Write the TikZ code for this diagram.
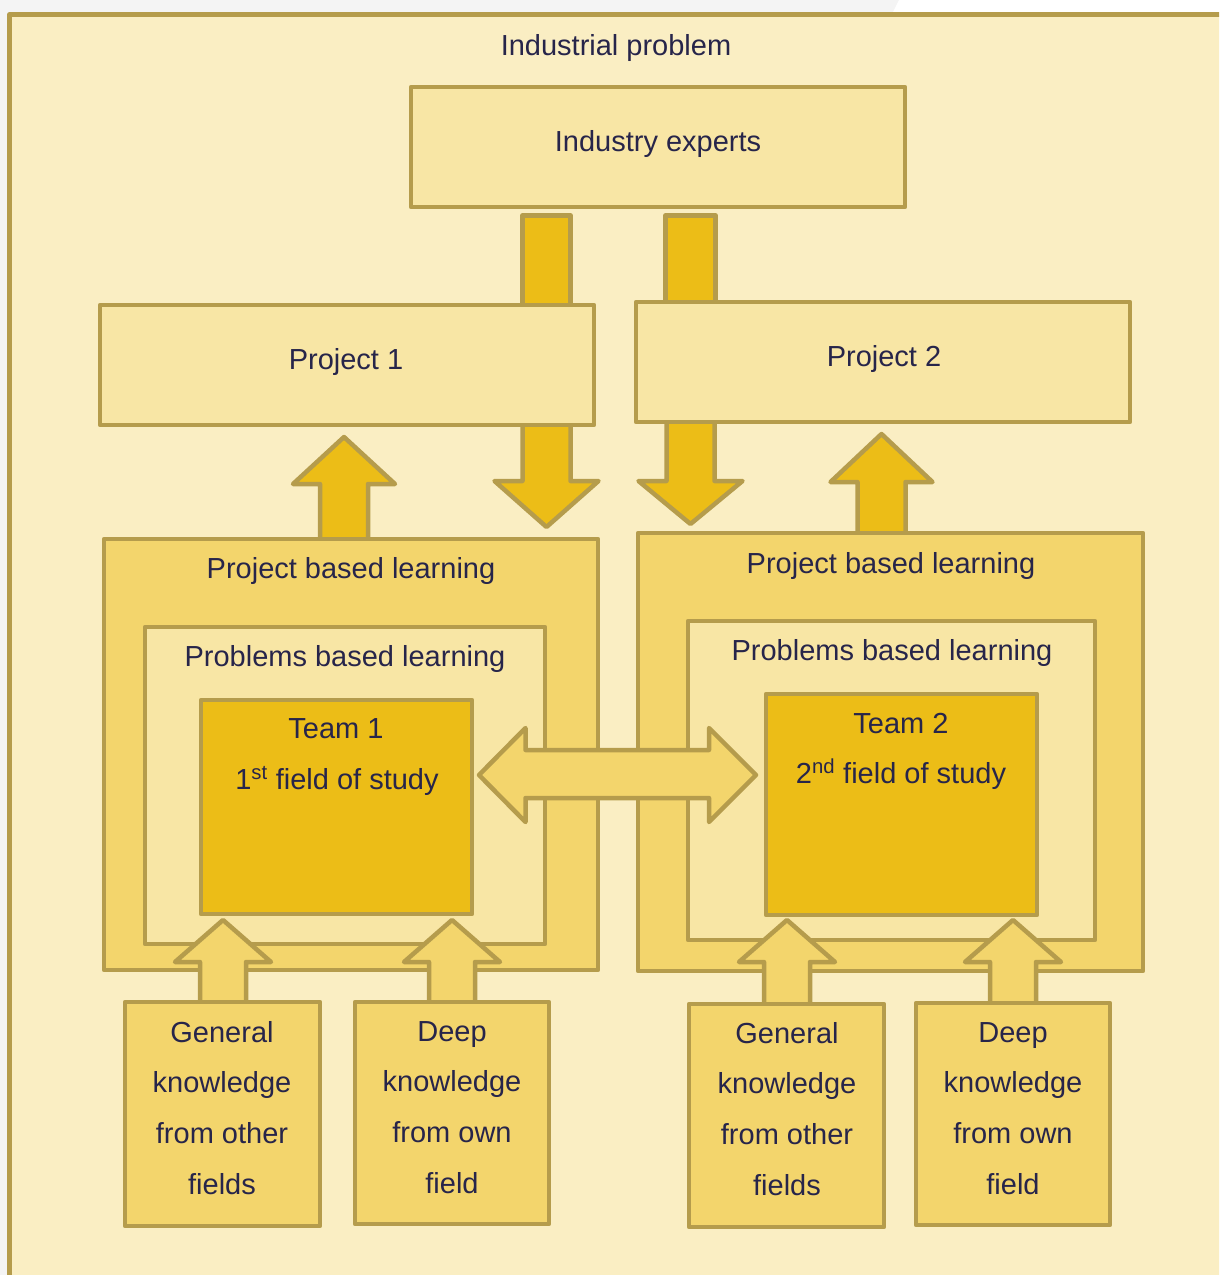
\documentclass[tikz,border=0pt]{standalone}
\usepackage{fontspec}
\setmainfont{Liberation Sans}
\definecolor{pagegray}{HTML}{F4F4F4}
\definecolor{framefill}{HTML}{FAEEC3}
\definecolor{edge}{HTML}{B59C4C}
\definecolor{pale}{HTML}{F8E6A5}
\definecolor{mid}{HTML}{F3D56C}
\definecolor{gold}{HTML}{ECBD17}
\definecolor{ink}{HTML}{27254A}

% panel{name}{x1}{y1}{x2}{y2}{style}: rectangle given by its border line
\newcommand\panel[6]{%
  \node[#6, minimum width={#4-#2}, minimum height={#5-#3}] (#1)
    at ({(#2+#4)/2},{(#3+#5)/2}) {};}
% blockarrow{style}{x centre}{y base}{y head base}{y tip}{half shaft}{half head}
\newcommand\blockarrow[7]{%
  \draw[#1] ({#2-#6},#3) -- ({#2-#6},#4) -- ({#2-#7},#4) -- (#2,#5)
    -- ({#2+#7},#4) -- ({#2+#6},#4) -- ({#2+#6},#3) -- cycle;}

\begin{document}
\begin{tikzpicture}[x=1pt,y=-1pt,
  every node/.style={font=\fontsize{29}{35}\selectfont, text=ink},
  outline/.style={draw=edge, line width=4.5pt, line join=round},
  boxbase/.style={outline, rectangle, inner sep=0pt, outer sep=0pt},
  palebox/.style={boxbase, fill=pale},
  midbox/.style={boxbase, fill=mid},
  goldbox/.style={boxbase, fill=gold},
  goldarrow/.style={outline, fill=gold},
  midarrow/.style={outline, fill=mid},
  label/.style={anchor=base, inner sep=0pt}]

\useasboundingbox (0,0) rectangle (1219,1275);
\clip (0,0) rectangle (1219,1275);

% page backdrop
\fill[pagegray] (0,0) rectangle (1219,1275);
\fill[white] (899,0) -- (1219,0) -- (1219,12) -- (893,12) -- cycle;

% outer frame
\draw[outline, fill=framefill] (9.5,14.5) rectangle (1240,1300);
\node[label] (problem) at (616,55) {Industrial problem};

% feeds from the experts to the projects
\panel{feedA}{522.5}{215.5}{570.5}{306}{goldbox}
\panel{feedB}{665.5}{215.5}{715.5}{303}{goldbox}

% arrows between projects and learning blocks
\blockarrow{goldarrow}{546.5}{424}{481}{527}{24}{52}
\blockarrow{goldarrow}{344}{541}{484}{437}{24}{51}
\blockarrow{goldarrow}{690.5}{421}{481}{524}{24}{52}
\blockarrow{goldarrow}{881.5}{535}{482}{434}{24}{51}

% experts and projects
\panel{experts}{411}{87}{905}{207}{palebox}
\panel{proj1}{100}{305}{594}{425}{palebox}
\panel{proj2}{636}{302}{1130}{422}{palebox}

% learning blocks
\panel{pbl1}{104}{539}{598}{970}{midbox}
\panel{pbl2}{638}{533}{1143}{971}{midbox}
\panel{prob1}{145}{627}{545}{944}{palebox}
\panel{prob2}{688}{621}{1095}{940}{palebox}
\panel{team1}{201}{700}{472}{914}{goldbox}
\panel{team2}{766}{694}{1037}{915}{goldbox}

% exchange between the teams
\draw[midarrow] (479,775) -- (525.5,728) -- (525.5,750) -- (709,750)
  -- (709,728) -- (756,775) -- (709,822) -- (709,798) -- (525.5,798)
  -- (525.5,822) -- cycle;

% knowledge feeding the teams
\blockarrow{midarrow}{223}{1004}{962}{920}{23}{48}
\blockarrow{midarrow}{452}{1004}{962}{920}{23}{48}
\blockarrow{midarrow}{787}{1006}{962}{920}{23}{48}
\blockarrow{midarrow}{1013}{1005}{962}{920}{23}{48}

\panel{know1}{125}{1002}{320}{1226}{midbox}
\panel{know2}{355}{1002}{549}{1224}{midbox}
\panel{know3}{689}{1004}{884}{1227}{midbox}
\panel{know4}{916}{1003}{1110}{1225}{midbox}

% texts
\node[label] (expertsT) at (658,151) {Industry experts};
\node[label] (proj1T) at (346,369) {Project 1};
\node[label] (proj2T) at (884,366) {Project 2};
\node[label] (pbl1T) at (351,578) {Project based learning};
\node[label] (pbl2T) at (891,573) {Project based learning};
\node[label] (prob1T) at (345,666) {Problems based learning};
\node[label] (prob2T) at (892,660) {Problems based learning};
\node[label] (team1T) at (336,738) {Team 1};
\node[label] (team1F) at (337,789) {1\textsuperscript{st} field of study};
\node[label] (team2T) at (901,733) {Team 2};
\node[label] (team2F) at (901,783) {2\textsuperscript{nd} field of study};

\foreach \t [count=\i] in {General,knowledge,from other,fields}
  \node[label] (know1L\i) at (222,{1042+50.7*(\i-1)}) {\t};
\foreach \t [count=\i] in {Deep,knowledge,from own,field}
  \node[label] (know2L\i) at (452,{1041+50.7*(\i-1)}) {\t};
\foreach \t [count=\i] in {General,knowledge,from other,fields}
  \node[label] (know3L\i) at (787,{1043+50.7*(\i-1)}) {\t};
\foreach \t [count=\i] in {Deep,knowledge,from own,field}
  \node[label] (know4L\i) at (1013,{1042+50.7*(\i-1)}) {\t};
\end{tikzpicture}
\end{document}
